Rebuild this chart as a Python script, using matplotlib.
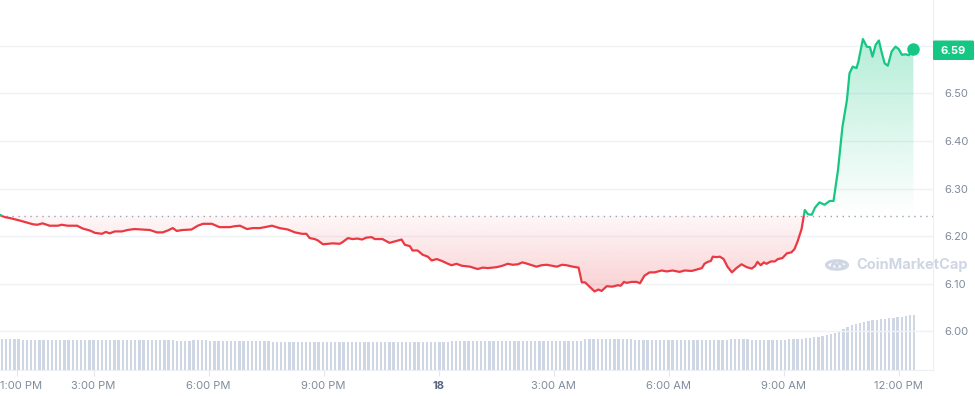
import matplotlib.pyplot as plt
from matplotlib.path import Path
from matplotlib.patches import Rectangle, Circle, FancyBboxPatch
from matplotlib.transforms import ScaledTranslation
from matplotlib.colors import to_rgb
import numpy as np

# minutes since 12:00 PM on the 17th
times = [33, 41, 49, 64, 85, 92, 100, 111, 124, 130, 139, 154, 163, 174, 182, 193,
         199, 205, 213, 224, 233, 244, 257, 268, 279, 288, 296, 304, 310, 319, 333,
         343, 351, 365, 377, 393, 401, 409, 420, 429, 440, 448, 459, 471, 484, 495,
         506, 513, 518, 526, 531, 539, 546, 554, 565, 570, 578, 585, 593, 600, 607,
         615, 620, 632, 643, 651, 662, 667, 675, 679, 687, 695, 703, 709, 717, 725,
         733, 740, 748, 756, 769, 781, 789, 797, 811, 820, 828, 836, 844, 851, 859,
         873, 881, 889, 897, 905, 913, 920, 930, 939, 944, 949, 956, 964, 970, 975,
         983, 991, 995, 1000, 1005, 1010, 1014, 1022, 1030, 1035, 1042, 1050, 1058,
         1069, 1077, 1086, 1097, 1105, 1116, 1124, 1132, 1136, 1141, 1146, 1149, 1155,
         1160, 1166, 1172, 1179, 1186, 1194, 1202, 1210, 1215, 1219, 1224, 1229, 1233,
         1240, 1246, 1251, 1258, 1265, 1272, 1277, 1282, 1288, 1293, 1298, 1304, 1309,
         1316, 1324, 1332, 1338, 1345, 1352, 1359, 1363, 1368, 1374, 1377, 1384, 1390,
         1395, 1399, 1404, 1409, 1413, 1418, 1423, 1429, 1435, 1440, 1445, 1451, 1456,
         1460, 1463]
prices = [6.245, 6.240, 6.238, 6.233, 6.225, 6.224, 6.227, 6.222, 6.222, 6.224, 6.222,
          6.222, 6.216, 6.212, 6.207, 6.205, 6.209, 6.206, 6.210, 6.210, 6.213, 6.215,
          6.214, 6.213, 6.208, 6.208, 6.212, 6.217, 6.211, 6.213, 6.214, 6.222, 6.226,
          6.226, 6.219, 6.219, 6.221, 6.222, 6.215, 6.217, 6.217, 6.219, 6.222, 6.217,
          6.214, 6.208, 6.205, 6.205, 6.196, 6.194, 6.191, 6.183, 6.184, 6.185, 6.184,
          6.188, 6.196, 6.194, 6.195, 6.193, 6.197, 6.198, 6.194, 6.194, 6.186, 6.189,
          6.193, 6.182, 6.179, 6.170, 6.170, 6.161, 6.157, 6.149, 6.152, 6.148, 6.143,
          6.139, 6.142, 6.138, 6.136, 6.131, 6.134, 6.133, 6.135, 6.138, 6.142, 6.140,
          6.141, 6.145, 6.142, 6.136, 6.139, 6.140, 6.138, 6.136, 6.140, 6.139, 6.136,
          6.134, 6.103, 6.103, 6.094, 6.084, 6.088, 6.085, 6.095, 6.094, 6.095, 6.097,
          6.096, 6.104, 6.102, 6.104, 6.104, 6.101, 6.117, 6.124, 6.124, 6.128, 6.126,
          6.128, 6.125, 6.128, 6.127, 6.130, 6.133, 6.142, 6.146, 6.148, 6.157, 6.156,
          6.157, 6.152, 6.136, 6.124, 6.133, 6.141, 6.135, 6.132, 6.137, 6.146, 6.139,
          6.145, 6.142, 6.147, 6.147, 6.152, 6.154, 6.164, 6.166, 6.173, 6.190, 6.215,
          6.255, 6.246, 6.245, 6.260, 6.271, 6.266, 6.274, 6.274, 6.339, 6.430, 6.486,
          6.542, 6.556, 6.553, 6.567, 6.614, 6.598, 6.597, 6.577, 6.602, 6.611, 6.588,
          6.563, 6.558, 6.588, 6.598, 6.593, 6.581, 6.582, 6.580, 6.588, 6.593]
ref_price = 6.2425
last_price = "6.59"

# volume bars, one every 6.52 minutes starting 12:36 PM
vol_start = 36.5
vol_step = 6.52
volume = ([3.1] * 5 + [3.0] * 37 + [2.9] * 4 + [3.0] * 4 + [2.9] * 15 + [2.8] * 15 +
          [2.8] * 28 + [2.9] * 24 + [2.9] * 8 + [3.1] * 12 + [3.0] * 18 + [3.0] * 5 +
          [3.1] * 5 + [3.0] * 9 + [3.1] * 4 +
          [3.2, 3.2, 3.3, 3.3, 3.4, 3.5, 3.6, 3.7, 3.9, 4.1, 4.3, 4.5, 4.6, 4.7,
           4.8, 4.9, 5.0, 5.0, 5.1, 5.1, 5.2, 5.2, 5.3, 5.3, 5.4, 5.5, 5.5])

tick_pos = [60, 180, 360, 540, 720, 900, 1080, 1260, 1440]
tick_labels = ["1:00 PM", "3:00 PM", "6:00 PM", "9:00 PM", "18",
               "3:00 AM", "6:00 AM", "9:00 AM", "12:00 PM"]
price_ticks = [6.0, 6.1, 6.2, 6.3, 6.4, 6.5, 6.6]
price_labels = ["6.00", "6.10", "6.20", "6.30", "6.40", "6.50", ""]

GREEN = "#16c784"
RED = "#ea3943"
GRAY = "#808a9d"
GRID = "#eff2f5"

plt.rcParams['font.family'] = ['Inter', 'DejaVu Sans']

fig = plt.figure(figsize=(9.75, 3.96), dpi=100)
ax = fig.add_axes([0, 1 - 370 / 396, 933 / 975, 370 / 396])
axv = ax.twinx()
ax.set_zorder(axv.get_zorder() + 1)
ax.patch.set_visible(False)

t = np.array(times)
p = np.array(prices)
xmin, xmax = 33.4, 1493.7
ymin, ymax = 5.919, 6.696

# volume
vt = vol_start + vol_step * np.arange(len(volume))
axv.bar(vt, volume, width=vol_step * 0.56, color="#cfd6e4", linewidth=0)
axv.set_ylim(0, 37)
axv.set_yticks([])
for s in axv.spines.values():
    s.set_visible(False)


def grad_fill(above, color, a_near, a_far, y_far):
    if above:
        poly = ax.fill_between(t, p, ref_price, where=p >= ref_price,
                               interpolate=True, color="none", lw=0)
        ext = [xmin, xmax, ref_price, y_far]
        alpha = np.linspace(a_near, a_far, 256)
    else:
        poly = ax.fill_between(t, p, ref_price, where=p <= ref_price,
                               interpolate=True, color="none", lw=0)
        ext = [xmin, xmax, y_far, ref_price]
        alpha = np.linspace(a_far, a_near, 256)
    img = np.zeros((256, 1, 4))
    img[..., :3] = to_rgb(color)
    img[:, 0, 3] = alpha
    im = ax.imshow(img, extent=ext, origin="lower", aspect="auto", zorder=1,
                   interpolation="bilinear")
    im.set_clip_path(Path.make_compound_path(*poly.get_paths()), ax.transData)


grad_fill(True, GREEN, 0.0, 0.32, 6.62)
grad_fill(False, RED, 0.04, 0.24, 6.08)

ax.axhline(ref_price, color="#9aa3b5", lw=1, linestyle=(0, (1, 3.3)), zorder=2)

up = Rectangle((0, ref_price), 3000, 5, transform=ax.transData)
down = Rectangle((0, ref_price - 5), 3000, 5, transform=ax.transData)
lg, = ax.plot(t, p, color=GREEN, lw=1.6, zorder=4, solid_joinstyle="round")
lg.set_clip_path(up)
lr, = ax.plot(t, p, color=RED, lw=1.6, zorder=4, solid_joinstyle="round")
lr.set_clip_path(down)
ax.plot(t[-1], p[-1], "o", color=GREEN, ms=8, zorder=5)

ax.set_xlim(xmin, xmax)
ax.set_ylim(ymin, ymax)

ax.yaxis.tick_right()
ax.set_yticks(price_ticks)
ax.set_yticklabels(price_labels)
ax.tick_params(axis="y", length=0, pad=8, labelsize=8, labelcolor=GRAY)
ax.grid(axis="y", color=GRID, lw=1)
ax.set_axisbelow(True)

ax.set_xticks(tick_pos)
ax.set_xticklabels(tick_labels)
ax.tick_params(axis="x", length=4, width=0.8, color="#e4e7ec", pad=4,
               labelsize=8, labelcolor=GRAY)
xl = ax.get_xticklabels()
for lbl in xl:
    if lbl.get_text() == "18":
        lbl.set_fontweight("bold")
        lbl.set_color("#58667e")
# first label sits flush with the left edge
xl[0].set_horizontalalignment("left")
xl[0].set_transform(xl[0].get_transform() + ScaledTranslation(-17 / 100, 0, fig.dpi_scale_trans))

for side in ["top", "left"]:
    ax.spines[side].set_visible(False)
for side in ["right", "bottom"]:
    ax.spines[side].set_color("#eceff3")
    ax.spines[side].set_linewidth(0.8)

# price tag
fig.patches.append(FancyBboxPatch((933 / 975, 1 - 60 / 396), 41 / 975, 19.5 / 396,
                                  boxstyle="round,pad=0,rounding_size=0.002",
                                  transform=fig.transFigure, color=GREEN, lw=0))
fig.text(953.5 / 975, 1 - 50.5 / 396, last_price, color="white", fontsize=8,
         fontweight="bold", ha="center", va="center")

# watermark
wm = "#cfd6e4"
cx, cy = 837, 265
fig.patches.append(Circle((cx / 975, 1 - cy / 396), 10.5 / 975, transform=fig.transFigure,
                          fill=False, ec=wm, lw=2.2))
mx = [-6, -3, 0, 3, 6, 8]
my = [4, -4, 2, -4, 3, 1]
fig.lines.append(plt.Line2D([(cx + a) / 975 for a in mx], [1 - (cy + b) / 396 for b in my],
                            transform=fig.transFigure, color=wm, lw=2.0,
                            solid_joinstyle="round", solid_capstyle="round"))
fig.text(856 / 975, 1 - 265 / 396, "CoinMarketCap", color=wm, fontsize=10.5,
         fontweight="bold", ha="left", va="center")

fig.savefig("out.png", dpi=100)
